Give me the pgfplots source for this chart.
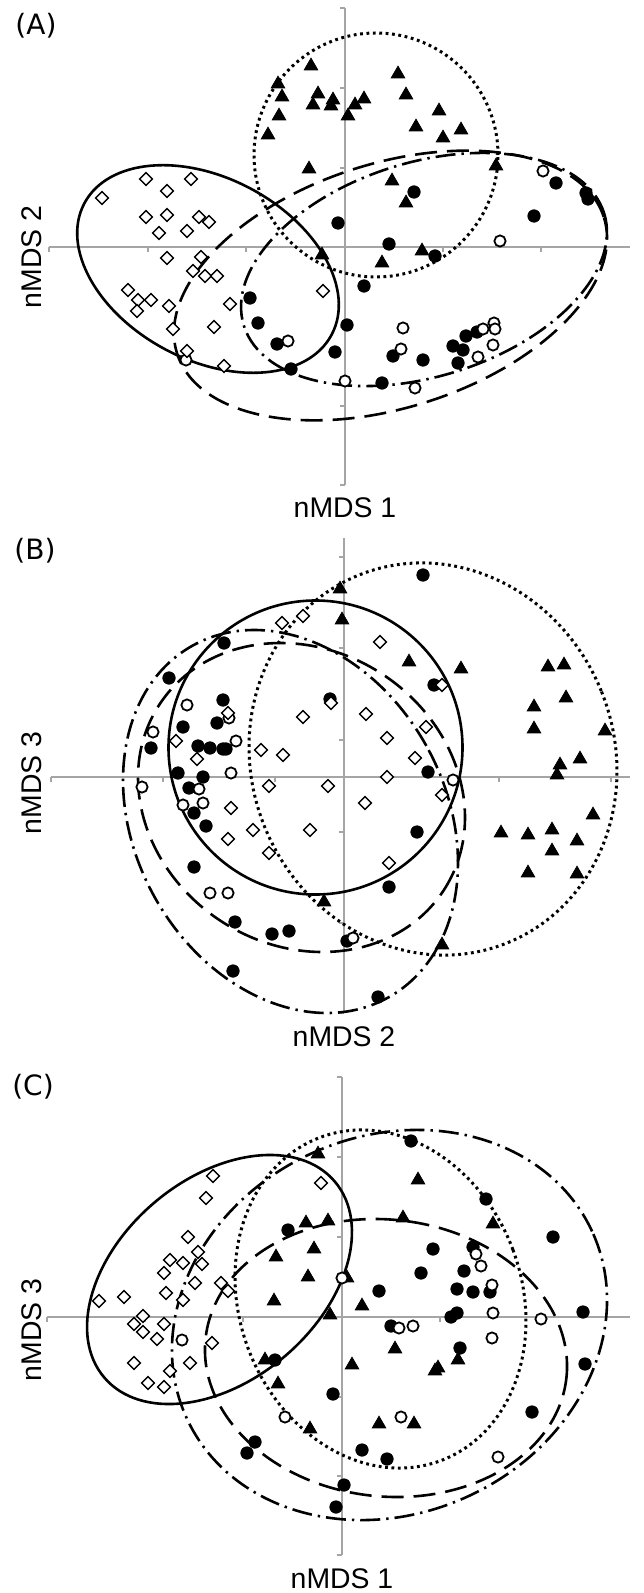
\documentclass[border=0pt]{standalone}
\usepackage{pgfplots}
\pgfplotsset{compat=1.18}
\usepackage{fontspec}
\setmainfont{Liberation Sans}
\newfontfamily\dejavu{DejaVu Sans}
\definecolor{axisgray}{RGB}{165,165,165}
\tikzset{
  sol/.style={line width=1.3pt},
  dot/.style={line width=1.5pt, dash pattern=on 1.4pt off 1.8pt, line cap=butt},
  dsh/.style={line width=1.3pt, dash pattern=on 11pt off 5pt},
  dd/.style={line width=1.3pt, dash pattern=on 10pt off 3pt on 1.2pt off 3pt},
  lab/.style={font=\fontsize{14.2}{17}\selectfont, inner sep=0pt},
  plab/.style={font=\dejavu\fontsize{14}{17}\selectfont, inner sep=0pt},
}
\pgfplotsset{
  tri/.style={only marks, mark=triangle*, mark size=3.9pt, mark options={fill=black, draw=black}},
  fcirc/.style={only marks, mark=*, mark size=3.1pt, mark options={fill=black, draw=black}},
  ocirc/.style={only marks, mark=*, mark size=2.8pt, mark options={fill=white, draw=black, line width=0.9pt}},
  diam/.style={only marks, mark=square*, mark size=2.25pt, mark options={fill=white, draw=black, line width=0.7pt, rotate=45}},
  axl/.style={axisgray, line width=0.65pt, no marks},
}
\begin{document}
\begin{tikzpicture}
\begin{axis}[
  x=0.5pt, y=0.5pt, xmin=0, xmax=630, ymin=0, ymax=1593, y dir=reverse,
  hide axis, clip=false, scale only axis, unbounded coords=jump,
]
\path (axis cs:0,0) rectangle (axis cs:630,1593);
% ---------------- axes ----------------
% Panel A
\addplot[axl] coordinates {(49,247) (630,247)};
\addplot[axl] coordinates {(345,8) (345,485)};
\addplot[axl] coordinates {(49,247)(49,252) (nan,nan) (148,247)(148,252) (nan,nan) (246,247)(246,252) (nan,nan) (443,247)(443,252) (nan,nan) (541,247)(541,252)
 (nan,nan) (340,8)(345,8) (nan,nan) (340,88)(345,88) (nan,nan) (340,168)(345,168) (nan,nan) (340,327)(345,327) (nan,nan) (340,406)(345,406) (nan,nan) (340,485)(345,485)};
% Panel B
\addplot[axl] coordinates {(51,777) (630,777)};
\addplot[axl] coordinates {(344,538) (344,1013)};
\addplot[axl] coordinates {(51,777)(51,782) (nan,nan) (163,777)(163,782) (nan,nan) (275,777)(275,782) (nan,nan) (387,777)(387,782) (nan,nan) (499,777)(499,782) (nan,nan) (611,777)(611,782)
 (nan,nan) (339,557)(344,557) (nan,nan) (339,648)(344,648) (nan,nan) (339,740)(344,740) (nan,nan) (339,832)(344,832) (nan,nan) (339,923)(344,923) (nan,nan) (339,1013)(344,1013)};
% Panel C
\addplot[axl] coordinates {(47,1317) (630,1317)};
\addplot[axl] coordinates {(342,1077) (342,1555)};
\addplot[axl] coordinates {(47,1317)(47,1322) (nan,nan) (145,1317)(145,1322) (nan,nan) (243,1317)(243,1322) (nan,nan) (440,1317)(440,1322) (nan,nan) (539,1317)(539,1322)
 (nan,nan) (337,1077)(342,1077) (nan,nan) (337,1157)(342,1157) (nan,nan) (337,1237)(342,1237) (nan,nan) (337,1397)(342,1397) (nan,nan) (337,1476)(342,1476) (nan,nan) (337,1555)(342,1555)};

% ---------------- Panel A points ----------------
\addplot[tri] coordinates {(311,66) (278,84) (282,97) (318,94) (313,105) (333,100) (331,106) (279,116) (268,135) (355,105) (348,116) (364,99) (398,74) (406,95) (439,111) (416,127) (443,138) (461,130) (309,169) (392,181) (406,203) (496,166) (422,251) (382,263) (322,255)};
\addplot[fcirc] coordinates {(338,223) (250,298) (258,323) (277,344) (291,369) (347,325) (335,352) (414,192) (389,244) (435,256) (364,286) (556,183) (586,193) (588,199) (534,216) (393,356) (423,360) (382,383) (466,336) (453,346) (463,350) (458,363) (477,332)};
\addplot[ocirc] coordinates {(288,341) (186,360) (500,241) (543,171) (403,328) (401,349) (345,381) (415,388) (483,329) (494,323) (495,329) (493,345) (478,357)};
\addplot[diam] coordinates {(102,198) (146,179) (191,179) (167,191) (146,217) (167,215) (199,217) (209,222) (159,233) (187,231) (167,258) (201,257) (193,271) (205,276) (217,276) (128,290) (138,300) (151,300) (137,311) (169,306) (230,304) (323,291) (173,329) (214,327) (187,351) (224,366)};

% ---------------- Panel B points ----------------
\addplot[tri] coordinates {(340,589) (342,620) (409,662) (461,669) (548,667) (564,665) (566,698) (534,707) (534,729) (605,731) (580,759) (560,765) (557,775) (593,815) (324,902) (442,945) (501,833) (528,835) (552,830) (552,851) (577,841) (528,873) (577,874)};
\addplot[fcirc] coordinates {(224,643) (169,678) (223,700) (217,723) (183,727) (151,748) (198,746) (210,748) (223,749) (226,749) (330,699) (178,773) (203,777) (189,788) (194,813) (206,826) (194,867) (417,832) (389,887) (235,922) (272,934) (289,931) (347,941) (233,971) (378,997) (423,575) (434,685) (428,772)};
\addplot[ocirc] coordinates {(187,705) (153,732) (229,718) (236,741) (231,773) (142,787) (199,789) (203,803) (183,805) (210,893) (228,893) (353,938) (453,780)};
\addplot[diam] coordinates {(282,623) (303,616) (228,713) (303,717) (331,703) (366,714) (176,741) (197,759) (261,750) (283,755) (269,786) (328,786) (231,808) (365,803) (380,642) (442,685) (426,727) (387,738) (415,758) (387,777) (442,795) (253,830) (310,830) (228,839) (269,853) (389,863)};

% ---------------- Panel C points ----------------
\addplot[tri] coordinates {(318,1154) (306,1223) (328,1221) (276,1257) (314,1249) (308,1277) (274,1301) (330,1315) (265,1360) (278,1384) (418,1180) (403,1218) (493,1224) (347,1278) (362,1306) (395,1349) (352,1365) (438,1368) (435,1371) (458,1360) (310,1429) (379,1424) (414,1424)};
\addplot[fcirc] coordinates {(288,1230) (275,1360) (411,1141) (486,1199) (553,1237) (433,1249) (421,1273) (464,1271) (379,1291) (457,1289) (473,1292) (490,1292) (451,1317) (457,1313) (391,1326) (460,1348) (583,1312) (585,1364) (333,1394) (473,1247) (255,1442) (247,1453) (362,1450) (387,1459) (344,1485) (336,1507) (532,1412)};
\addplot[ocirc] coordinates {(182,1340) (342,1278) (476,1254) (481,1266) (492,1285) (493,1313) (492,1338) (399,1328) (413,1326) (541,1319) (285,1417) (401,1417) (498,1457)};
\addplot[diam] coordinates {(213,1176) (206,1198) (321,1183) (188,1237) (198,1252) (170,1260) (183,1263) (202,1264) (164,1273) (195,1283) (221,1283) (228,1291) (166,1293) (183,1300) (124,1297) (99,1301) (143,1316) (134,1324) (143,1332) (164,1324) (157,1339) (212,1343) (134,1363) (190,1363) (170,1371) (148,1383) (164,1387)};

% ---------------- ellipses ----------------
% A
\draw[sol] (axis cs:208,269) ellipse [x radius=70pt, y radius=45.5pt, rotate=-28];
\draw[dot] (axis cs:376,155) circle [radius=61pt];
\draw[dsh] (axis cs:390.5,285.5) ellipse [x radius=112pt, y radius=61pt, rotate=17.8];
\draw[dd] (axis cs:424,269.5) ellipse [x radius=94.35pt, y radius=53.5pt, rotate=17.3];
% B
\draw[sol] (axis cs:315.5,747.5) circle [radius=73.5pt];
\draw[dot] (axis cs:433,759) ellipse [x radius=90.75pt, y radius=99.15pt, rotate=22];
\draw[dsh] (axis cs:301.5,797.5) ellipse [x radius=84.9pt, y radius=73.75pt, rotate=-33.1];
\draw[dd] (axis cs:290.5,821.5) ellipse [x radius=77.75pt, y radius=100.65pt, rotate=29.1];
% C
\draw[sol] (axis cs:219.5,1279.5) ellipse [x radius=75.65pt, y radius=50.4pt, rotate=40.4];
\draw[dot] (axis cs:380.5,1299) ellipse [x radius=70.65pt, y radius=86.25pt, rotate=20.4];
\draw[dsh] (axis cs:386,1358) ellipse [x radius=90.75pt, y radius=69.2pt, rotate=-6.3];
\draw[dd] (axis cs:389.5,1325) ellipse [x radius=111.6pt, y radius=94.25pt, rotate=24.8];

% ---------------- labels ----------------
\node[plab] at (axis cs:36,26) {(A)};
\node[lab] at (axis cs:345,507.5) {nMDS 1};
\node[lab, rotate=90] at (axis cs:32,257) {nMDS 2};
\node[plab] at (axis cs:35,551) {(B)};
\node[lab] at (axis cs:344,1037) {nMDS 2};
\node[lab, rotate=90] at (axis cs:32,783) {nMDS 3};
\node[plab] at (axis cs:33,1087) {(C)};
\node[lab] at (axis cs:342,1579) {nMDS 1};
\node[lab, rotate=90] at (axis cs:32,1330) {nMDS 3};
\end{axis}
\end{tikzpicture}
\end{document}
